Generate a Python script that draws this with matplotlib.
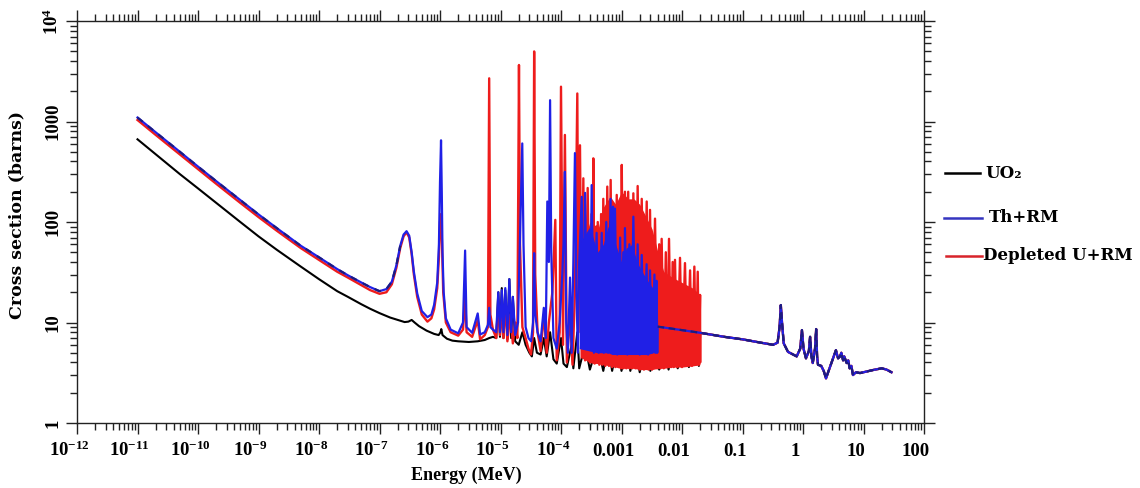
import numpy as np
import matplotlib
matplotlib.use("Agg")
import matplotlib.pyplot as plt
import matplotlib.transforms as mtransforms
from matplotlib.lines import Line2D
from matplotlib.ticker import FixedLocator, LogLocator, NullFormatter

# --- fonts ---
plt.rcParams['font.family'] = ['Liberation Serif', 'DejaVu Serif']
plt.rcParams['font.weight'] = 'bold'
plt.rcParams['mathtext.fontset'] = 'custom'
plt.rcParams['mathtext.rm'] = 'Liberation Serif:bold'
plt.rcParams['mathtext.bf'] = 'Liberation Serif:bold'
plt.rcParams['mathtext.it'] = 'Liberation Serif:bold:italic'
plt.rcParams['mathtext.default'] = 'bf'

# --- data: (energy MeV, cross section barns) ---
uo2_pts = [
    (1e-11, 665), (2e-11, 472), (5e-11, 300), (1e-10, 216), (2e-10, 155), (5e-10, 100),
    (1e-9, 72), (2e-9, 53), (5e-9, 36), (1e-8, 27), (2e-8, 20.5), (3e-8, 18), (5e-8, 15.2),
    (7e-8, 13.7), (1e-7, 12.4), (1.5e-7, 11.2), (2e-7, 10.6), (2.6e-7, 10.1), (3.0e-7, 10.2),
    (3.4e-7, 10.6), (3.8e-7, 10.0), (4.5e-7, 9.2), (6e-7, 8.3), (8e-7, 7.7), (9.5e-7, 7.5),
    (1.02e-6, 8.0), (1.05e-6, 8.6), (1.1e-6, 7.5), (1.3e-6, 6.9), (1.6e-6, 6.6), (2e-6, 6.5),
    (3e-6, 6.4), (4.2e-6, 6.5), (5.5e-6, 6.7), (6.5e-6, 7), (7.5e-6, 7.2), (8.5e-6, 7),
    (9.2e-6, 20), (9.8e-6, 7.2), (1.05e-5, 22), (1.12e-5, 7), (1.2e-5, 21), (1.3e-5, 6.8),
    (1.4e-5, 27), (1.5e-5, 7), (1.6e-5, 18), (1.75e-5, 6.5), (2.0e-5, 6), (2.3e-5, 8),
    (2.6e-5, 6), (3.0e-5, 5), (3.3e-5, 4.6), (3.6e-5, 7), (4.0e-5, 5), (4.6e-5, 4.8),
    (5.2e-5, 7), (5.8e-5, 4.6), (6.6e-5, 8), (7.5e-5, 4.3), (8.5e-5, 3.9), (1.0e-4, 7),
    (1.1e-4, 3.9), (1.25e-4, 3.6), (1.5e-4, 6), (1.6e-4, 3.5), (1.86e-4, 8), (2e-4, 3.5),
    (2.5e-4, 6), (3e-4, 3.4), (4e-4, 6), (5e-4, 3.3), (6e-4, 6), (7e-4, 3.3), (8.5e-4, 6),
    (1e-3, 3.3), (1.2e-3, 6), (1.4e-3, 3.3), (1.7e-3, 6), (2e-3, 3.2), (2.5e-3, 6),
    (3e-3, 3.3), (3.6e-3, 6), (4.2e-3, 3.4), (5e-3, 6), (6e-3, 3.4), (7e-3, 6), (8.5e-3, 3.5),
    (1e-2, 6), (1.3e-2, 3.6), (1.6e-2, 6), (1.9e-2, 3.7),
]

th_rm_pts = [
    (1e-11, 1095), (2e-11, 780), (5e-11, 500), (1e-10, 356), (2e-10, 255), (5e-10, 165),
    (1e-9, 119), (2e-9, 87), (5e-9, 58), (1e-8, 44.5), (2e-8, 34), (3e-8, 29.5), (5e-8, 25),
    (7e-8, 22.5), (1e-7, 20.5), (1.3e-7, 21.5), (1.6e-7, 25.5), (1.9e-7, 37), (2.2e-7, 58),
    (2.5e-7, 75), (2.8e-7, 81), (3.1e-7, 73), (3.4e-7, 50), (3.7e-7, 32), (4.2e-7, 19.5),
    (5e-7, 13), (6.2e-7, 11.3), (7.2e-7, 12), (8e-7, 15), (9e-7, 25), (9.6e-7, 60),
    (1.0e-6, 250), (1.04e-6, 650), (1.07e-6, 200), (1.1e-6, 50), (1.15e-6, 20), (1.25e-6, 11),
    (1.5e-6, 8.5), (2.0e-6, 7.8), (2.4e-6, 10), (2.6e-6, 52), (2.75e-6, 9), (3.4e-6, 7.9),
    (4.2e-6, 12.3), (4.6e-6, 7.6), (5.5e-6, 8.0), (6.2e-6, 9.5), (6.5e-6, 14), (6.8e-6, 9),
    (7.5e-6, 8.5), (8.5e-6, 8), (9.2e-6, 20), (9.8e-6, 8), (1.05e-5, 21), (1.12e-5, 8),
    (1.2e-5, 22), (1.3e-5, 7.5), (1.4e-5, 27), (1.5e-5, 8), (1.6e-5, 18), (1.75e-5, 7.5),
    (1.95e-5, 10), (2.1e-5, 70), (2.29e-5, 605), (2.4e-5, 60), (2.6e-5, 9), (2.9e-5, 7),
    (3.2e-5, 6.5), (3.45e-5, 10), (3.6e-5, 49), (3.75e-5, 12), (4.1e-5, 8), (4.6e-5, 6.5),
    (5.2e-5, 14), (5.6e-5, 7), (5.94e-5, 160), (6.3e-5, 40), (6.6e-5, 1630), (6.9e-5, 50),
    (7.5e-5, 7), (8.5e-5, 5.5), (9.5e-5, 10), (1.05e-4, 30), (1.1e-4, 60), (1.16e-4, 316),
    (1.22e-4, 10), (1.3e-4, 5), (1.41e-4, 28), (1.5e-4, 5), (1.6e-4, 40), (1.7e-4, 485),
    (1.8e-4, 20), (1.9e-4, 5), (2.0e-4, 40), (2.2e-4, 178), (2.35e-4, 6), (2.5e-4, 195),
    (2.7e-4, 5.5), (2.9e-4, 80), (3.05e-4, 6), (3.21e-4, 233), (3.5e-4, 5), (3.88e-4, 78),
    (4.2e-4, 5), (4.71e-4, 78), (5.1e-4, 5), (5.6e-4, 100), (6.0e-4, 5), (6.6e-4, 170),
    (6.9e-4, 6), (7.24e-4, 142), (7.5e-4, 5), (7.8e-4, 136), (8.5e-4, 4.8), (9.5e-4, 70),
    (1.0e-3, 5), (1.07e-3, 50), (1.1e-3, 5), (1.14e-3, 87), (1.25e-3, 4.8), (1.35e-3, 60),
    (1.45e-3, 5), (1.57e-3, 113), (1.7e-3, 5), (1.85e-3, 60), (2.0e-3, 4.8), (2.16e-3, 47),
    (2.35e-3, 5), (2.6e-3, 38), (2.75e-3, 4.8), (2.96e-3, 33), (3.2e-3, 5), (3.5e-3, 30),
    (3.65e-3, 5), (3.8e-3, 26), (3.9e-3, 5), (3.95e-3, 9.1), (1e-2, 8.4),
]

du_rm_pts = [
    (1e-11, 1035), (2e-11, 735), (5e-11, 470), (1e-10, 336), (2e-10, 240), (5e-10, 155),
    (1e-9, 112), (2e-9, 82), (5e-9, 55), (1e-8, 42), (2e-8, 32), (3e-8, 28), (5e-8, 23.5),
    (7e-8, 21), (1e-7, 19.3), (1.3e-7, 20), (1.6e-7, 24), (1.9e-7, 35), (2.2e-7, 55),
    (2.5e-7, 72), (2.8e-7, 79), (3.1e-7, 70), (3.4e-7, 48), (3.7e-7, 30), (4.2e-7, 18),
    (5e-7, 12), (6.2e-7, 10.2), (7.2e-7, 11), (8e-7, 13.5), (9e-7, 22), (9.6e-7, 45),
    (1.0e-6, 100), (1.04e-6, 120), (1.08e-6, 60), (1.13e-6, 20), (1.25e-6, 10), (1.5e-6, 8.0),
    (2.0e-6, 7.4), (2.4e-6, 8.5), (2.6e-6, 18), (2.75e-6, 8), (3.4e-6, 7.2), (4.2e-6, 10.5),
    (4.6e-6, 6.8), (5.5e-6, 7.5), (6.2e-6, 9), (6.5e-6, 2690), (6.8e-6, 12), (7.5e-6, 8.5),
    (8.5e-6, 7), (9.2e-6, 15), (9.8e-6, 7.5), (1.05e-5, 14), (1.12e-5, 7), (1.2e-5, 16),
    (1.3e-5, 6.5), (1.45e-5, 12), (1.6e-5, 6.2), (1.75e-5, 10), (1.9e-5, 7), (2.02e-5, 3650),
    (2.1e-5, 60), (2.3e-5, 9), (2.6e-5, 7), (2.9e-5, 5.5), (3.2e-5, 4.8), (3.45e-5, 8),
    (3.6e-5, 4980), (3.75e-5, 30), (4.1e-5, 8), (4.6e-5, 5.2), (5.2e-5, 12), (5.8e-5, 5.0),
    (6.3e-5, 10), (7.2e-5, 20), (8.05e-5, 105), (8.5e-5, 4.2), (9.5e-5, 8), (1.0e-4, 2220),
    (1.08e-4, 6), (1.16e-4, 735), (1.25e-4, 4.0), (1.4e-4, 12), (1.55e-4, 3.8), (1.7e-4, 20),
    (1.86e-4, 1900), (1.95e-4, 8), (2.06e-4, 580), (2.2e-4, 4.5), (2.34e-4, 272), (2.5e-4, 4.2),
    (2.76e-4, 218), (3.0e-4, 4.0), (3.2e-4, 120), (3.3e-4, 4), (3.42e-4, 430), (3.6e-4, 3.9),
    (3.8e-4, 90), (3.9e-4, 4), (4.05e-4, 100), (4.3e-4, 3.8), (4.6e-4, 120), (4.8e-4, 3.8),
    (5.0e-4, 170), (5.4e-4, 3.7), (5.82e-4, 225), (6.2e-4, 3.7), (6.62e-4, 262), (7.0e-4, 3.6),
    (7.5e-4, 150), (7.9e-4, 3.6), (8.34e-4, 186), (8.9e-4, 3.6), (9.5e-4, 140), (9.8e-4, 3.5),
    (1.01e-3, 370), (1.07e-3, 3.5), (1.14e-3, 200), (1.2e-3, 3.5), (1.29e-3, 200),
    (1.36e-3, 3.5), (1.43e-3, 150), (1.5e-3, 3.5), (1.57e-3, 193), (1.7e-3, 3.5),
    (1.85e-3, 228), (2.0e-3, 3.4), (2.16e-3, 170), (2.35e-3, 3.4), (2.61e-3, 160),
    (2.8e-3, 3.4), (2.96e-3, 132), (3.2e-3, 3.4), (3.58e-3, 108), (3.9e-3, 3.5), (4.2e-3, 60),
    (4.4e-3, 3.5), (4.61e-3, 68), (5.0e-3, 3.5), (5.4e-3, 50), (5.7e-3, 3.6), (6.1e-3, 68),
    (6.6e-3, 3.6), (7.0e-3, 40), (7.3e-3, 3.6), (7.66e-3, 42), (8.3e-3, 3.6), (9.27e-3, 44),
    (1.0e-2, 3.6), (1.12e-2, 39), (1.22e-2, 3.7), (1.36e-2, 33), (1.46e-2, 3.7), (1.6e-2, 36),
    (1.7e-2, 3.8), (1.82e-2, 32), (1.9e-2, 3.8), (1.99e-2, 18.8), (1.995e-2, 4),
]

# fast region, shared by all three materials
fast_pts = [
    (0.02, 7.9), (0.05, 7.2), (0.1, 6.8), (0.2, 6.3), (0.32, 6.0), (0.38, 6.3), (0.41, 9),
    (0.43, 14.9), (0.45, 10), (0.48, 6.2), (0.565, 5.1), (0.787, 4.6), (0.9, 5.5), (0.96, 8.4),
    (1.02, 5.5), (1.12, 4.4), (1.25, 5.2), (1.31, 7.2), (1.38, 4.6), (1.45, 3.95), (1.58, 5.5),
    (1.65, 8.6), (1.71, 4.6), (1.77, 3.8), (2.0, 3.7), (2.2, 3.3), (2.4, 2.78), (2.6, 3.2),
    (2.79, 3.6), (3.1, 4.3), (3.5, 5.3), (3.8, 4.4), (4.1, 4.6), (4.3, 5.0), (4.6, 4.2),
    (4.8, 4.6), (5.27, 3.95), (5.6, 4.2), (5.9, 3.5), (6.3, 3.7), (6.7, 3.0), (7.5, 3.2),
    (8.75, 3.14), (11.2, 3.25), (14.5, 3.37), (20, 3.5), (24, 3.4), (29, 3.2),
]

# dense resonance bands (upper / lower envelopes)
du_band_E = [2.1e-4, 3e-4, 4e-4, 5e-4, 6.5e-4, 8e-4, 1e-3, 1.3e-3, 1.6e-3, 2e-3, 2.6e-3,
             3.2e-3, 4e-3, 5e-3, 7e-3, 1e-2, 1.5e-2, 1.98e-2]
du_band_top = [50, 100, 80, 140, 180, 150, 200, 170, 170, 150, 110, 85, 50, 32, 28, 25, 22, 19]
du_band_bot = [4.5, 4.0, 3.9, 3.8, 3.7, 3.6, 3.5, 3.5, 3.5, 3.4, 3.4, 3.4, 3.5, 3.5, 3.6,
               3.6, 3.7, 3.8]

th_band_E = [2e-4, 3e-4, 4e-4, 5e-4, 6e-4, 7e-4, 8e-4, 1e-3, 1.2e-3, 1.5e-3, 1.8e-3, 2.2e-3,
             2.7e-3, 3.3e-3, 3.9e-3]
th_band_top = [60, 90, 50, 60, 90, 80, 60, 40, 55, 60, 40, 32, 26, 22, 20]
th_band_bot = [5.5, 5.2, 5, 5, 5, 4.8, 4.8, 4.8, 4.8, 4.8, 4.8, 4.8, 4.8, 5, 5]

x_ticks = [1e-12, 1e-11, 1e-10, 1e-9, 1e-8, 1e-7, 1e-6, 1e-5, 1e-4, 1e-3, 1e-2, 0.1, 1, 10, 100]
x_tick_labels = [r'$10^{-12}$', r'$10^{-11}$', r'$10^{-10}$', r'$10^{-9}$', r'$10^{-8}$',
                 r'$10^{-7}$', r'$10^{-6}$', r'$10^{-5}$', r'$10^{-4}$', '0.001', '0.01', '0.1',
                 '1', '10', '100']
y_ticks = [1, 10, 100, 1000, 1e4]
y_tick_labels = ['1', '10', '100', '1000', r'$10^{4}$']

legend_labels = ['UO₂', 'Th+RM', 'Depleted U+RM']

# --- colours ---
C_UO2 = 'black'
C_TH = '#2020e6'
C_TH_DARK = '#1c1c80'
C_DU = '#ee1c1c'

uo2 = np.array(uo2_pts + fast_pts).T
th = np.array(th_rm_pts + fast_pts).T
du = np.array(du_rm_pts + fast_pts).T

fig = plt.figure(figsize=(11.4, 4.88), dpi=100)
ax = fig.add_axes([77 / 1140, 65 / 488, 847 / 1140, 402 / 488])
ax.set_xscale('log')
ax.set_yscale('log')

ax.plot(uo2[0], uo2[1], color=C_UO2, lw=1.5, zorder=2)

ax.fill_between(du_band_E, du_band_bot, du_band_top, color=C_DU, lw=0, zorder=3)
ax.plot(du[0], du[1], color=C_DU, lw=1.7, zorder=3)

ax.fill_between(th_band_E, th_band_bot, th_band_top, color=C_TH, lw=0, zorder=4)
ax.plot(th[0], th[1], color=C_TH, lw=1.6, zorder=4)
# the smooth thermal part and the fast part look like dark dashes on the blue line
slow = th[0] < 2.5e-7
fast = th[0] > 3.9e-3
ax.plot(th[0][slow], th[1][slow], color=C_TH_DARK, lw=1.6, ls=(0, (3, 3)), zorder=4)
ax.plot(th[0][fast], th[1][fast], color=C_TH_DARK, lw=1.6, ls=(0, (3, 2)), zorder=4)

ax.set_xlim(1e-12, 100)
ax.set_ylim(1, 1e4)

# --- axes and ticks ---
for sp in ax.spines.values():
    sp.set_linewidth(1.0)
    sp.set_color('#222222')

ax.xaxis.set_major_locator(FixedLocator(x_ticks))
ax.xaxis.set_minor_locator(LogLocator(base=10, subs=np.arange(2, 10), numticks=100))
ax.xaxis.set_minor_formatter(NullFormatter())
ax.set_yticks(y_ticks)
ax.set_yticklabels(y_tick_labels)
ax.yaxis.set_minor_locator(LogLocator(base=10, subs=np.arange(2, 10), numticks=100))
ax.yaxis.set_minor_formatter(NullFormatter())

ax.tick_params(which='both', direction='out', top=True, right=True, color='#222222', width=1)
ax.tick_params(which='major', length=8)
ax.tick_params(which='minor', length=5)
ax.tick_params(axis='x', labelbottom=False)
ax.tick_params(axis='y', labelsize=13.5, labelrotation=90, pad=3)
for lab in ax.get_yticklabels():
    lab.set_fontweight('bold')
    lab.set_va('center')

# x tick labels sit a little left of their ticks in the original
shift = mtransforms.ScaledTranslation(-8 / 100, -33 / 100, fig.dpi_scale_trans)
for v, lab in zip(x_ticks, x_tick_labels):
    ax.text(v, 0, lab, transform=ax.get_xaxis_transform() + shift,
            ha='center', va='baseline', fontsize=13.5, fontweight='bold')

ax.set_xlabel('Energy (MeV)', fontsize=13, fontweight='bold')
ax.xaxis.set_label_coords(0.46, -0.109)
ax.set_ylabel('Cross section (barns)', fontsize=12.5, fontweight='bold', family='DejaVu Serif')
ax.yaxis.set_label_coords(-0.0614, 0.517)

# --- legend drawn outside the axes on the right ---
leg_y = [173, 218, 256]
leg_line_x = [(945, 980), (944, 982), (946, 982)]
leg_text_x = [985, 989, 983]
leg_colors = [C_UO2, '#3535c0', '#d8232a']
for lab, y, (x0, x1), tx, c in zip(legend_labels, leg_y, leg_line_x, leg_text_x, leg_colors):
    yf = 1 - y / 488
    fig.add_artist(Line2D([x0 / 1140, x1 / 1140], [yf, yf], color=c, lw=1.8,
                          transform=fig.transFigure))
    fig.text(tx / 1140, yf, lab, ha='left', va='center', fontsize=12, fontweight='bold',
             family='DejaVu Serif')

fig.savefig('out.png', dpi=100)
